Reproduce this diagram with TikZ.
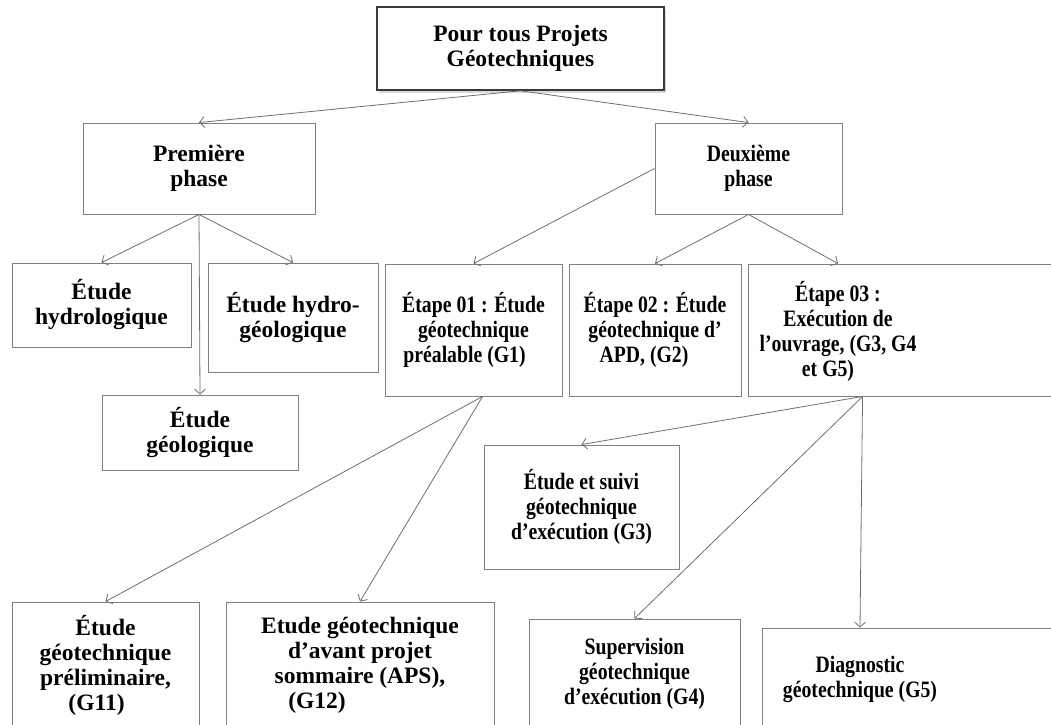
\documentclass[tikz,border=0pt]{standalone}
\usepackage{fontspec}
\setmainfont{Liberation Serif}
\newfontfamily\condfont{Liberation Serif}[FakeStretch=0.84]
\usetikzlibrary{arrows.meta,shadows,calc}
\definecolor{boxgray}{HTML}{808080}
\definecolor{arrgray}{HTML}{6E6E6E}
\definecolor{topgray}{HTML}{3A3A3A}
\begin{document}
\begin{tikzpicture}[x=1pt,y=-1pt,
  box/.style={draw=boxgray, line width=0.9pt, rectangle, inner sep=0pt, align=center,
    font=\fontsize{23.5}{25}\selectfont\bfseries},
  cbox/.style={box, font=\fontsize{23.5}{25}\selectfont\condfont\bfseries},
  topbox/.style={box, draw=topgray, line width=1.6pt, fill=white,
    drop shadow={opacity=0.3, shadow xshift=1.5pt, shadow yshift=-2.5pt}},
  ctext/.style={draw=none, inner sep=0pt, align=center,
    font=\fontsize{23.5}{25}\selectfont\condfont\bfseries},
  arr/.style={draw=arrgray, line width=0.8pt, -{Straight Barb[length=5pt,width=11pt]}},
]
\useasboundingbox (0,0) rectangle (1051,724);
\clip (0,0) rectangle (1051,724);

\node[topbox, minimum width=287pt, minimum height=83pt] (top) at (520.5,48.5) {Pour tous Projets\\Géotechniques};

\node[box, minimum width=232pt, minimum height=91pt] (prem) at (199,168.5) {Première\\phase};
\node[cbox, minimum width=187pt, minimum height=91pt] (deux) at (748.5,168.5) {Deuxième\\phase};

\node[box, minimum width=179pt, minimum height=84pt] (hydro) at (101.5,305) {Étude\\hydrologique};
\node[box, minimum width=170pt, minimum height=109pt] (hgeo) at (293,317.5) {Étude hydro-\\géologique};
\node[box, minimum width=196pt, minimum height=75pt] (geo) at (200,432.5) {Étude\\géologique};

\node[cbox, minimum width=177pt, minimum height=132pt] (et01) at (473.5,330) {Étape 01 : Étude\\géotechnique\\préalable (G1)\hspace*{18pt}};
\node[cbox, minimum width=172pt, minimum height=132pt] (et02) at (655,330) {Étape 02 : Étude\\géotechnique d’\\APD, (G2)\hspace*{22pt}};
\node[cbox, minimum width=322pt, minimum height=132pt] (et03) at (909,330) {};
\node[ctext] (et03t) at (838,331) {Étape 03 :\\Exécution de\\l’ouvrage, (G3, G4\\et G5)\hspace*{20pt}};

\node[cbox, minimum width=195pt, minimum height=124pt] (g3) at (581.5,507) {Étude et suivi\\géotechnique\\d’exécution (G3)};

\node[box, minimum width=187pt, minimum height=126pt] (g11) at (105.5,665) {Étude\\géotechnique\\préliminaire,\\(G11)\hspace*{18pt}};
\node[box, minimum width=268pt, minimum height=126pt] (g12) at (360,665) {Etude géotechnique\\d’avant projet\\sommaire (APS),\\(G12)\hspace*{86pt}};
\node[cbox, minimum width=211pt, minimum height=110pt] (g4) at (634.5,674) {Supervision\\géotechnique\\d’exécution (G4)};
\node[cbox, minimum width=308pt, minimum height=102pt] (g5) at (916,679) {};
\node[ctext] (g5t) at (860,679) {Diagnostic\\géotechnique (G5)};

\draw[arr] (top.south) -- (prem.north);
\draw[arr] (top.south) -- (deux.north);
\draw[arr] (prem.south) -- (hydro.north);
\draw[arr] (prem.south) -- (hgeo.north);
\draw[arr] (prem.south) -- (geo.north);
\draw[arr] (deux.west) -- (et01.north);
\draw[arr] (deux.south) -- (et02.north);
\draw[arr] (deux.south) -- (et03t |- et03.north);

\coordinate (s1) at ([xshift=98pt]et01.south west);
\coordinate (s3) at ([xshift=115pt]et03.south west);
\draw[arr] (s1) -- (g11.north);
\draw[arr] (s1) -- (g12.north);
\draw[arr] (s3) -- (g3.north);
\draw[arr] (s3) -- (g4.north);
\draw[arr] (s3) -- (g5t |- g5.north);
\end{tikzpicture}
\end{document}
